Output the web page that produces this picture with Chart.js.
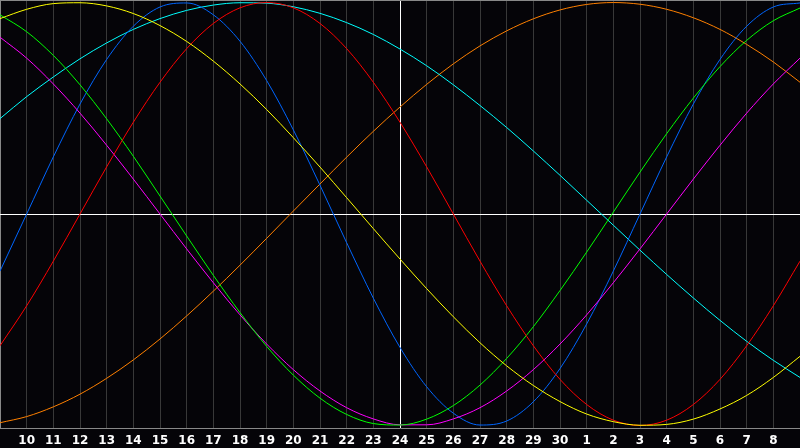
<!DOCTYPE html>
<html>
<head>
<meta charset="utf-8">
<script src="https://cdn.jsdelivr.net/npm/chart.js@4.4.1/dist/chart.umd.min.js"></script>
<style>
  html, body { margin: 0; padding: 0; background: #050408; }
  canvas { display: block; }
</style>
</head>
<body>
<canvas id="bioChart" width="800" height="448"></canvas>
<script>
// Days shown on the axis (9th to the 9th of next month)
const dayLabels = ["9", "10", "11", "12", "13", "14", "15", "16", "17", "18", "19", "20",
  "21", "22", "23", "24", "25", "26", "27", "28", "29", "30", "1", "2", "3", "4",
  "5", "6", "7", "8", "9"];

// Cycle values in percent, one per day
const physical = [-27.0, 0.0, 27.0, 52.0, 73.1, 88.8, 97.9, 99.8, 94.2, 81.7, 63.1,
  39.8, 13.6, -13.6, -39.8, -63.1, -81.7, -94.2, -99.8, -97.9, -88.8, -73.1, -52.0,
  -27.0, 0.0, 27.0, 52.0, 73.1, 88.8, 97.9, 99.8];
const emotional = [-62.3, -43.4, -22.3, 0.0, 22.3, 43.4, 62.3, 78.2, 90.1, 97.5, 100,
  97.5, 90.1, 78.2, 62.3, 43.4, 22.3, 0.0, -22.3, -43.4, -62.3, -78.2, -90.1, -97.5,
  -100, -97.5, -90.1, -78.2, -62.3, -43.4, -22.3];
const intellectual = [94.2, 86.2, 75.0, 61.1, 45.0, 27.3, 8.5, -10.4, -29.0, -46.6,
  -62.6, -76.2, -87.1, -94.8, -99.1, -99.8, -97.0, -90.6, -80.9, -68.3, -53.3, -36.2,
  -18.0, 0.9, 19.8, 38.0, 54.8, 69.7, 82.1, 91.4, 97.4];
const intuitive = [83.6, 73.7, 61.5, 47.7, 32.5, 16.5, 0.0, -16.5, -32.5, -47.7, -61.5,
  -73.6, -83.7, -91.6, -96.9, -99.7, -99.7, -96.9, -91.6, -83.7, -73.6, -61.5, -47.7,
  -32.5, -16.5, 0.0, 16.5, 32.5, 47.7, 61.5, 73.7];
const aesthetic = [92.4, 96.8, 99.5, 99.9, 98.4, 94.8, 89.1, 81.6, 72.3, 61.5, 49.4,
  36.1, 22.2, 7.7, -6.9, -21.3, -35.3, -48.6, -60.9, -71.8, -81.1, -88.7, -94.6, -98.2,
  -99.9, -99.5, -97.0, -92.2, -85.8, -77.3, -67.3];
const spiritual = [45.1, 55.5, 64.8, 73.4, 80.9, 87.3, 92.4, 96.3, 98.8, 99.9, 99.7,
  98.0, 94.9, 90.5, 84.9, 78.0, 70.1, 61.1, 51.3, 40.9, 29.8, 18.3, 6.5, -5.3, -17.1,
  -28.6, -39.7, -50.3, -60.2, -69.2, -77.3];
const passion = [-98.7, -95.8, -91.2, -85.2, -77.7, -69.0, -59.1, -48.2, -36.5, -24.2,
  -11.5, 1.4, 14.2, 26.9, 39.1, 50.6, 61.3, 71.0, 79.5, 86.6, 92.3, 96.5, 99.1, 100,
  99.2, 96.8, 92.8, 87.3, 80.2, 71.9, 62.3];

const todayIndex = 15;
const yLimit = 101.2;

function cycle(label, data, color) {
  return {
    label: label,
    data: data,
    borderColor: color,
    borderWidth: 1,
    pointRadius: 0,
    fill: false,
    cubicInterpolationMode: "monotone",
  };
}

// remove the extra room chart.js keeps around the axes
function noPadding(scale) {
  scale.paddingLeft = 0;
  scale.paddingRight = 0;
  scale.paddingTop = 0;
  scale.paddingBottom = 0;
}

const ctx = document.getElementById("bioChart").getContext("2d");
const bioChart = new Chart(ctx, {
  type: "line",
  data: {
    labels: dayLabels,
    datasets: [
      cycle("Aesthetic", aesthetic, "#ffff00"),
      cycle("Emotional", emotional, "#ff0000"),
      cycle("Intellectual", intellectual, "#00ff00"),
      cycle("Intuitive", intuitive, "#ff00ff"),
      cycle("Physical", physical, "#0066ff"),
      cycle("Spiritual", spiritual, "#00ffff"),
      cycle("Passion", passion, "#ff8000"),
    ],
  },
  options: {
    responsive: false,
    devicePixelRatio: 1,
    animation: false,
    layout: { padding: 0 },
    plugins: {
      legend: { display: false },
      tooltip: { enabled: false },
    },
    scales: {
      x: {
        offset: false,
        afterFit: function (scale) {
          scale.height = 20;
          noPadding(scale);
        },
        grid: {
          drawTicks: false,
          lineWidth: 1,
          color: function (c) {
            if (c.index === todayIndex) return "#ffffff";
            if (c.index === 0) return "#888888";
            return "#383838";
          },
        },
        border: { display: true, color: "#888888", width: 1 },
        ticks: {
          autoSkip: false,
          maxRotation: 0,
          padding: 6,
          color: "#ffffff",
          font: { family: "DejaVu Sans", size: 12, weight: "bold" },
          callback: function (value, index) {
            if (index === 0 || index === dayLabels.length - 1) return "";
            return dayLabels[index];
          },
        },
      },
      y: {
        min: -yLimit,
        max: yLimit,
        afterFit: function (scale) {
          scale.width = 0;
          noPadding(scale);
        },
        afterBuildTicks: function (scale) {
          scale.ticks = [{ value: -yLimit }, { value: 0 }, { value: yLimit }];
        },
        grid: {
          drawTicks: false,
          color: function (c) {
            if (!c.tick) return "transparent";
            if (c.tick.value === 0) return "#ffffff";
            if (c.tick.value > 0) return "#888888";
            return "transparent";
          },
        },
        border: { display: false },
        ticks: { display: false },
      },
    },
  },
});
</script>
</body>
</html>
